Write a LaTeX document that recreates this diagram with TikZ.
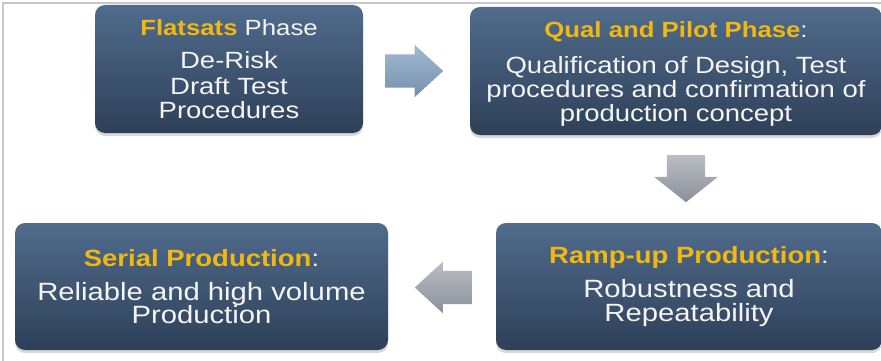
\documentclass[tikz,border=0pt]{standalone}
\usepackage[]{xcolor}
\usepackage{fontspec}
\setmainfont{Liberation Sans}[FakeStretch=1.17]
\usepackage{tikz}
\usetikzlibrary{shapes.arrows,shadows}

\definecolor{boxtop}{RGB}{80,107,140}
\definecolor{boxbot}{RGB}{46,64,88}
\definecolor{gold}{RGB}{240,184,16}
\definecolor{lighttxt}{RGB}{244,244,244}
\definecolor{framegray}{RGB}{200,200,200}

\newcommand{\hd}[1]{\textbf{\color{gold}#1}}
\newcommand{\phaseline}[2]{{\fontsize{#1}{24}\selectfont #2}}

\begin{document}
\begin{tikzpicture}
		[x = 1pt, y = -1pt,
		 phase/.style = {rounded corners = 10pt, top color = boxtop, bottom color = boxbot,
			text = lighttxt, align = center, inner sep = 0pt,
			drop shadow = {shadow xshift = 0pt, shadow yshift = -3pt, opacity = 0.3}},
		 top phase/.style = {phase, minimum height = 128, font = \fontsize{23.5}{24}\selectfont},
		 low phase/.style = {phase, minimum height = 127, font = \fontsize{25}{23.5}\selectfont},
		 bluearrow/.style = {single arrow, anchor = tail, top color = {rgb,255:red,162;green,186;blue,210},
			bottom color = {rgb,255:red,118;green,144;blue,172}},
		 grayarrow/.style = {single arrow, anchor = tail, top color = {rgb,255:red,186;green,190;blue,197},
			bottom color = {rgb,255:red,138;green,144;blue,153}}]
			\useasboundingbox[fill = white] (0,0) rectangle (881,361);
			\draw[framegray, line width = 1.5pt] (3,362) -- (3,3) -- (882,3);

			\node[top phase, minimum width = 268] (flat) at (229,69)
				{\phaseline{22}{\hd{Flatsats} Phase}\\[9pt] De-Risk\\[2pt] Draft Test\\ Procedures};
			\node[top phase, minimum width = 412] (qual) at (676,71)
				{\rule{0pt}{22pt}\phaseline{22}{\hd{Qual and Pilot Phase}:}\\[12pt] Qualification of Design, Test\\ procedures and confirmation of\\ production concept};
			\node[low phase, minimum width = 386] (ramp) at (689,286.5)
				{\phaseline{23.5}{\hd{Ramp-up Production}:}\\[10.5pt] Robustness and\\ Repeatability};
			\node[low phase, minimum width = 373] (serial) at (201.5,286.5)
				{\phaseline{23.5}{\hd{Serial Production}:}\\[10.5pt] Reliable and high volume\\ Production};

			\node[bluearrow, inner xsep = 0, inner ysep = 16.5, minimum height = 58, single arrow head extend = 9.5,
				single arrow tip angle = 85] (toqual) at (385,71) {};
			\node[grayarrow, inner xsep = 19, inner ysep = 0, minimum height = 47, single arrow head extend = 12.5,
				single arrow tip angle = 103, shape border rotate = 270] (toramp) at (686,155) {};
			\node[grayarrow, inner xsep = 0, inner ysep = 16.5, minimum height = 57, single arrow head extend = 9,
				single arrow tip angle = 85, shape border rotate = 180] (toserial) at (472,287.5) {};
	\end{tikzpicture}
\end{document}
